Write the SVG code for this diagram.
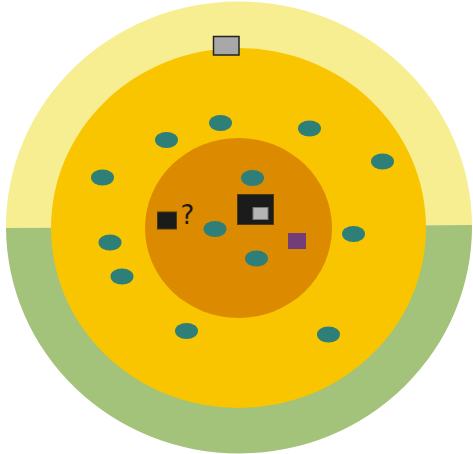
<svg xmlns="http://www.w3.org/2000/svg" width="473" height="454" viewBox="0 0 473 454">
<style>
.dot{fill:#2E7F77}
.blk{fill:#1B1B1B;stroke:#4a3a10;stroke-width:1}
</style>
<g id="outer">
<path d="M6,228 A233,225 0 0 1 472,225 Z" fill="#F7EE91"/>
<path d="M6,228 L472,225 A233,227 0 0 1 6,228 Z" fill="#A3C27A"/>
</g>
<g id="middle"><ellipse cx="238.5" cy="228" rx="187.5" ry="180" fill="#F8C500"/></g>
<g id="inner"><ellipse cx="238.5" cy="228" rx="93.5" ry="90" fill="#DC8B00"/></g>
<g id="dots">
<ellipse class="dot" cx="166.5" cy="140" rx="11.5" ry="8"/>
<ellipse class="dot" cx="220.5" cy="123" rx="11.5" ry="8"/>
<ellipse class="dot" cx="309.5" cy="128.5" rx="11.5" ry="8"/>
<ellipse class="dot" cx="382.5" cy="161.5" rx="11.5" ry="8"/>
<ellipse class="dot" cx="102.5" cy="177.5" rx="11.5" ry="8"/>
<ellipse class="dot" cx="252.5" cy="178" rx="11.5" ry="8"/>
<ellipse class="dot" cx="110" cy="242.5" rx="11.5" ry="8"/>
<ellipse class="dot" cx="122" cy="276.5" rx="11.5" ry="8"/>
<ellipse class="dot" cx="215" cy="229" rx="11.5" ry="8"/>
<ellipse class="dot" cx="256.5" cy="258.5" rx="11.5" ry="8"/>
<ellipse class="dot" cx="353.5" cy="234" rx="11.5" ry="8"/>
<ellipse class="dot" cx="186.5" cy="331" rx="11.5" ry="8"/>
<ellipse class="dot" cx="328.5" cy="334.5" rx="11.5" ry="8"/>
</g>
<g id="top-box"><rect x="213.5" y="36.5" width="25.5" height="18.5" fill="#A8A8A8" stroke="#222" stroke-width="1.5"/></g>
<g id="small-black"><rect class="blk" x="157.5" y="212" width="19" height="17"/></g>
<g id="question"><text x="187.5" y="224" font-family="DejaVu Sans, sans-serif" font-size="26" fill="#1B1B1B" text-anchor="middle">?</text></g>
<g id="big-black"><rect class="blk" x="237.5" y="194.5" width="36" height="30"/>
<rect x="253" y="207.5" width="15" height="12" fill="#B5B5B5" stroke="#777" stroke-width="1"/></g>
<g id="purple"><rect x="288" y="233" width="18" height="16" fill="#733D7A"/></g>
<g id="connectors"/>
</svg>
